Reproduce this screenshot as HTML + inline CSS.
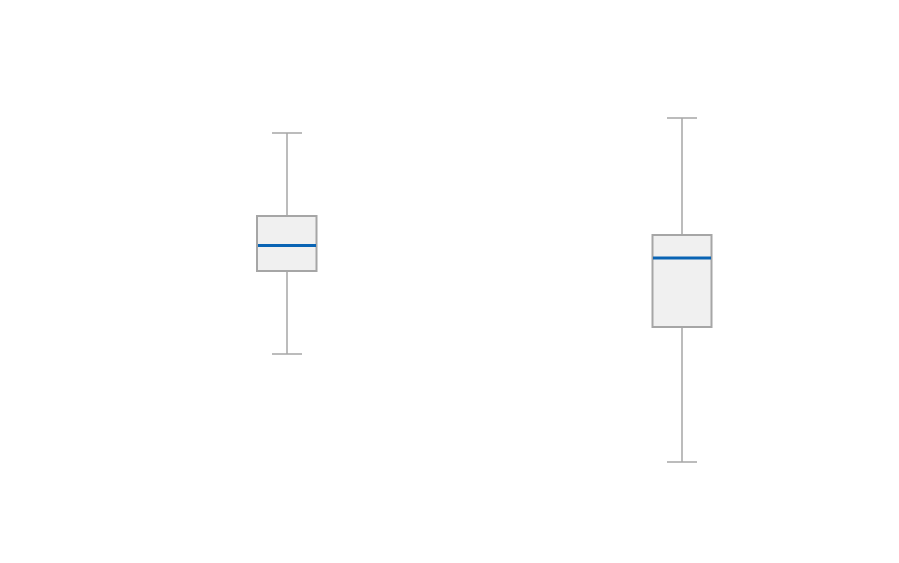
<!DOCTYPE html>
<html><head><style>html,body{margin:0;padding:0;background:#fff;}svg{display:block}</style></head>
<body>
<svg width="899" height="563" viewBox="0 0 899 563" xmlns="http://www.w3.org/2000/svg">
<g stroke="#a6a6a6" stroke-width="1.5" fill="none">
<line x1="287" y1="133" x2="287" y2="216"/>
<line x1="287" y1="271" x2="287" y2="354"/>
<line x1="272" y1="133" x2="302" y2="133"/>
<line x1="272" y1="354" x2="302" y2="354"/>
<rect x="257" y="216" width="59.5" height="55" fill="#f0f0f0" stroke-width="2"/>
<line x1="682" y1="118" x2="682" y2="235"/>
<line x1="682" y1="327" x2="682" y2="462"/>
<line x1="667" y1="118" x2="697" y2="118"/>
<line x1="667" y1="462" x2="697" y2="462"/>
<rect x="652.5" y="235" width="59" height="92" fill="#f0f0f0" stroke-width="2"/>
</g>
<line x1="258" y1="245.5" x2="316" y2="245.5" stroke="#0a64b4" stroke-width="3"/>
<line x1="653" y1="258" x2="711" y2="258" stroke="#0a64b4" stroke-width="3"/>
</svg>
</body></html>
